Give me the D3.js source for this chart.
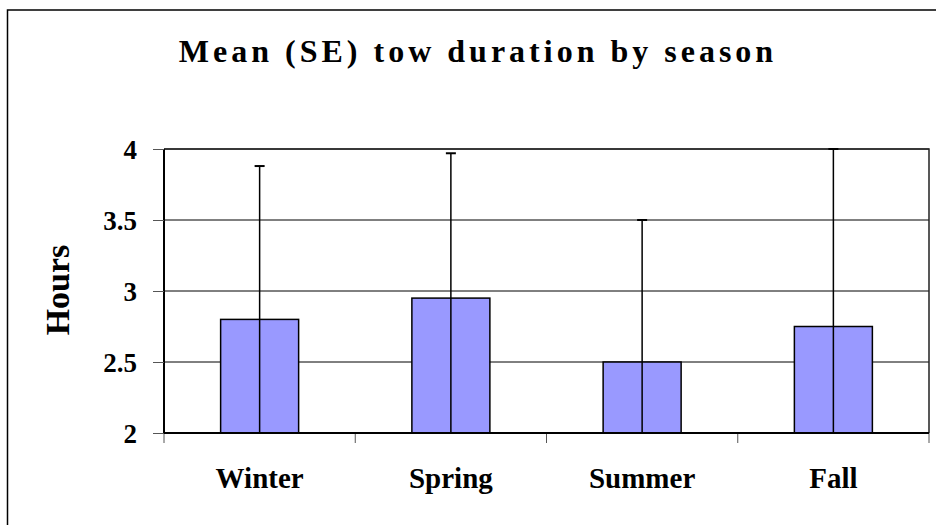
<!DOCTYPE html>
<html>
<head>
<meta charset="utf-8">
<script src="https://cdn.jsdelivr.net/npm/d3@7"></script>
<style>
  body { margin: 0; background: #fff; }
  text { font-family: "Liberation Serif", "Times New Roman", serif; font-weight: bold; fill: #000; }
</style>
</head>
<body>
<script>
var seasons = ["Winter", "Spring", "Summer", "Fall"];
var means = [2.8, 2.95, 2.5, 2.75];
var se = [1.08, 1.02, 1.0, 1.25];
var yTicks = [2, 2.5, 3, 3.5, 4];

var m = { t: 149, r: 7, b: 92, l: 164 },
  W = 936, H = 525,
  width = W - m.l - m.r,
  height = H - m.t - m.b;

var svg = d3.select("body").append("svg")
  .attr("width", W)
  .attr("height", H);

// outer chart border
svg.append("rect")
  .attr("x", 7.5).attr("y", 10)
  .attr("width", 940).attr("height", 530)
  .attr("fill", "none")
  .attr("stroke", "#000")
  .attr("stroke-width", 1.5);

svg.append("text")
  .attr("x", 478)
  .attr("y", 62)
  .attr("text-anchor", "middle")
  .style("font-size", "32px")
  .style("letter-spacing", "4px")
  .text("Mean (SE) tow duration by season");

var g = svg.append("g")
  .attr("transform", "translate(" + m.l + "," + m.t + ")");

var x = d3.scaleBand().domain(seasons).range([0, width]);
var y = d3.scaleLinear().domain([2, 4]).range([height, 0]);

// gridlines
g.selectAll(".grid")
  .data(yTicks.slice(1))
  .enter().append("line")
  .attr("x1", 0).attr("x2", width)
  .attr("y1", function(d) { return y(d); })
  .attr("y2", function(d) { return y(d); })
  .attr("stroke", "#000")
  .attr("stroke-width", 1);

// plot frame top/right
g.append("path")
  .attr("d", "M0,0H" + width + "V" + height)
  .attr("fill", "none")
  .attr("stroke", "#222")
  .attr("stroke-width", 1.5);

// y axis
var yAxis = g.append("g")
  .call(d3.axisLeft(y).tickValues(yTicks).tickSize(11).tickPadding(16)
    .tickFormat(function(d) { return d; }));
yAxis.select(".domain").attr("stroke-width", 2).attr("d", "M0,0V" + height);
yAxis.selectAll(".tick line").attr("stroke", "#555");
yAxis.selectAll("text").style("font-size", "27px").attr("dy", "0.34em");

// x axis ticks at band boundaries
g.selectAll(".xtick")
  .data(seasons.concat([null]))
  .enter().append("line")
  .attr("x1", function(d, i) { return i * x.step(); })
  .attr("x2", function(d, i) { return i * x.step(); })
  .attr("y1", height).attr("y2", height + 10)
  .attr("stroke", "#555");

// bars
var bw = 78;
g.selectAll(".bar")
  .data(seasons)
  .enter().append("rect")
  .attr("x", function(d) { return x(d) + x.bandwidth() / 2 - bw / 2; })
  .attr("y", function(d, i) { return y(means[i]); })
  .attr("width", bw)
  .attr("height", function(d, i) { return height - y(means[i]); })
  .attr("fill", "#9999FF")
  .attr("stroke", "#000")
  .attr("stroke-width", 1.5);

// x axis line
g.append("line")
  .attr("x1", 0).attr("x2", width)
  .attr("y1", height).attr("y2", height)
  .attr("stroke", "#000").attr("stroke-width", 2);

// error bars
var eb = g.selectAll(".err")
  .data(seasons)
  .enter().append("g");
eb.append("line")
  .attr("x1", function(d) { return x(d) + x.bandwidth() / 2; })
  .attr("x2", function(d) { return x(d) + x.bandwidth() / 2; })
  .attr("y1", function(d, i) { return y(Math.max(2, means[i] - se[i])); })
  .attr("y2", function(d, i) { return y(Math.min(4, means[i] + se[i])); })
  .attr("stroke", "#000").attr("stroke-width", 1.5);
eb.append("line")
  .attr("x1", function(d) { return x(d) + x.bandwidth() / 2 - 5; })
  .attr("x2", function(d) { return x(d) + x.bandwidth() / 2 + 5; })
  .attr("y1", function(d, i) { return y(Math.min(4, means[i] + se[i])); })
  .attr("y2", function(d, i) { return y(Math.min(4, means[i] + se[i])); })
  .attr("stroke", "#000").attr("stroke-width", 2);

// category labels
g.selectAll(".xlab")
  .data(seasons)
  .enter().append("text")
  .attr("x", function(d) { return x(d) + x.bandwidth() / 2; })
  .attr("y", height + 55)
  .attr("text-anchor", "middle")
  .style("font-size", "29px")
  .text(function(d) { return d; });

svg.append("text")
  .attr("transform", "translate(69,290) rotate(-90)")
  .attr("text-anchor", "middle")
  .style("font-size", "34px")
  .text("Hours");
</script>
</body>
</html>
